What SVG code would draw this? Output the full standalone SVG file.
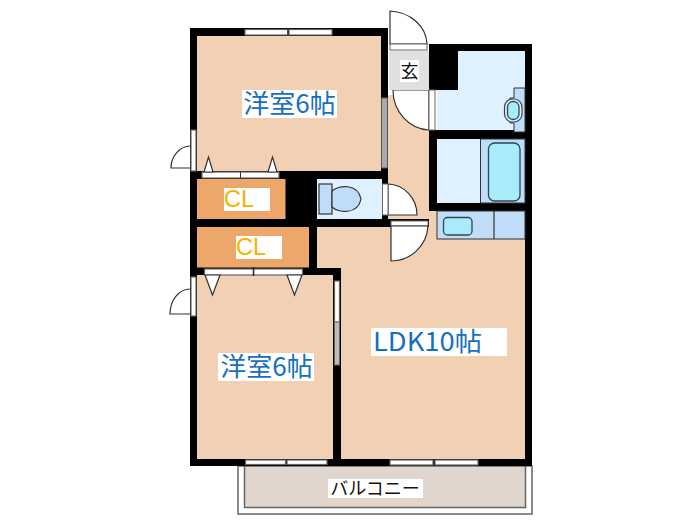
<svg xmlns="http://www.w3.org/2000/svg" width="700" height="525" viewBox="0 0 700 525">
<style>
.w{fill:#000}
.p{fill:#f2d0b4}
.o{fill:#eda76a}
.b{fill:#dff1ff}
.m{fill:#bfdcf8}
.c{fill:#a8ecfb;stroke:#33464f;stroke-width:1.3}
.l{fill:#fff}
.d{fill:#fff;stroke:#333;stroke-width:1.2}
.wn{fill:#fff;stroke:#666;stroke-width:1.2}
.t{font-family:"Noto Sans CJK JP","Noto Sans",sans-serif}
.bl{fill:#1570bd;font-size:26px}
.cl{fill:#f5b400;font-size:23.500px;font-family:"Liberation Sans",sans-serif}
</style>
<g id="balcony">
<rect x="238" y="466" width="294" height="48" fill="#fff" stroke="#666" stroke-width="1.5"/>
<rect x="244.500" y="466" width="281" height="41.500" fill="#e0d6cd" stroke="#666" stroke-width="1.5"/>
<rect x="328" y="479" width="95" height="19" class="l"/>
<text x="375" y="495" text-anchor="middle" class="t" font-size="18" fill="#111">バルコニー</text>
</g>
<g id="walls">
<rect x="190" y="28" width="198" height="151" class="w"/>
<rect x="190" y="171" width="127" height="104" class="w"/>
<rect x="190" y="171" width="7" height="295" class="w"/>
<rect x="190" y="459" width="342" height="7" class="w"/>
<rect x="333" y="268" width="8" height="198" class="w"/>
<rect x="300" y="268" width="41" height="7" class="w"/>
<rect x="429" y="44" width="103" height="7" class="w"/>
<rect x="525" y="44" width="7" height="422" class="w"/>
<rect x="429" y="44" width="29" height="46" class="w"/>
<rect x="429" y="130" width="103" height="9" class="w"/>
<rect x="429" y="130" width="8" height="95" class="w"/>
<rect x="429" y="203" width="103" height="8" class="w"/>
<rect x="310" y="171" width="78" height="8" class="w"/>
<rect x="310" y="219" width="127" height="8" class="w"/>
<rect x="382" y="28" width="6" height="110" class="w"/>
<rect x="382" y="165" width="6" height="19" class="w"/>
<rect x="382" y="214" width="6" height="12" class="w"/>
</g>
<g id="room-west-upper">
<rect x="197" y="36" width="184" height="135" class="p"/>
<rect x="245" y="29.500" width="43" height="5.500" class="wn"/>
<rect x="289" y="29.500" width="43" height="5.500" class="wn"/>
<line x1="288" y1="28" x2="288" y2="36" stroke="#333" stroke-width="1.500"/>
<rect x="191" y="130" width="5" height="41" class="wn"/>
<path d="M190 146A20 22 0 0 0 171 168H190" class="d"/>
<rect x="202" y="172" width="77" height="6" class="wn"/>
<line x1="240.500" y1="172" x2="240.500" y2="178" stroke="#333"/>
<path d="M204 172L208.500 157L213 172ZM268 172L272.500 157L277 172Z" class="d"/>
<rect x="381.500" y="98" width="6" height="70" fill="#aaa" stroke="#555"/>
<rect x="242" y="90" width="95" height="28" class="l"/>
<text x="289.500" y="113" text-anchor="middle" class="t bl">洋室6帖</text>
</g>
<g id="closet-upper">
<rect x="197" y="179" width="88.500" height="40" class="o"/>
<rect x="224" y="188" width="46" height="23" class="l"/>
<text x="224" y="207" class="cl">CL</text>
</g>
<g id="closet-lower">
<rect x="197" y="227" width="112" height="40.500" class="o"/>
<rect x="236" y="236" width="46" height="23" class="l"/>
<text x="236" y="255" class="cl">CL</text>
</g>
<g id="room-west-lower">
<rect x="197" y="275" width="136" height="184" class="p"/>
<rect x="204.500" y="269" width="98" height="6" class="wn"/>
<line x1="253.500" y1="267" x2="253.500" y2="276" stroke="#222" stroke-width="1.500"/>
<path d="M205 275H220L212.500 295ZM287 275H302L294.500 295Z" class="d"/>
<rect x="191" y="277" width="5" height="39" class="wn"/>
<path d="M190 289A20 25 0 0 0 170 314H190" class="d"/>
<rect x="334.500" y="281" width="5" height="41" class="wn"/>
<rect x="334.500" y="322" width="5" height="43" fill="#bbb" stroke="#666"/>
<rect x="218" y="353" width="96" height="28" class="l"/>
<text x="266.500" y="376" text-anchor="middle" class="t bl">洋室6帖</text>
<rect x="245.500" y="460" width="40" height="4.500" class="wn"/>
<rect x="287" y="460" width="40" height="4.500" class="wn"/>
</g>
<g id="ldk">
<path d="M317 227H429V211H437V239H525V459H341V268H317Z" class="p"/>
<rect x="391" y="221" width="37" height="5" class="l" stroke="#666"/>
<path d="M391 226H428A37 37 0 0 1 391 261Z" class="d"/>
<rect x="371" y="328" width="136" height="28" class="l"/>
<text x="373" y="351" class="t bl" textLength="109" lengthAdjust="spacingAndGlyphs">LDK10帖</text>
<rect x="390" y="460" width="43" height="5" class="wn"/>
<rect x="435" y="460" width="43" height="5" class="wn"/>
<line x1="434" y1="459" x2="434" y2="466" stroke="#333" stroke-width="1.500"/>
</g>
<g id="hall">
<rect x="388" y="95" width="41" height="124" class="p"/>
<path d="M393 90H429V130A38 40 0 0 1 393 90Z" fill="#fff" stroke="#333" stroke-width="1.200"/>
<rect x="429" y="90" width="6" height="40" class="l" stroke="#666"/>
</g>
<g id="entry">
<rect x="389" y="51" width="40" height="39" fill="#e0e0e0"/>
<rect x="400" y="60" width="19" height="22" class="l"/>
<text x="409.500" y="78" text-anchor="middle" class="t" font-size="18" fill="#111">玄</text>
<path d="M390 11A39 34 0 0 1 427 44H390Z" class="d"/>
<rect x="390" y="44" width="37" height="6" class="l" stroke="#666"/>
</g>
<g id="toilet">
<rect x="317" y="179" width="65" height="40" class="b"/>
<rect x="319" y="184" width="13" height="30" class="m" stroke="#333" stroke-width="1.200"/>
<path d="M332 191C338 185 358 183 361 199C358 215 338 213 332 207Z" class="m" stroke="#333" stroke-width="1.200"/>
<path d="M388 184A30 31 0 0 1 417 215H388Z" class="d"/>
<rect x="382.500" y="184" width="5.500" height="31" class="l" stroke="#666"/>
</g>
<g id="wash">
<path d="M458 51H525V130H437V90H458Z" class="b"/>
<path d="M514 88H525V132H514V123H510V98H514Z" class="m" stroke="#333" stroke-width="1"/>
<rect x="504.500" y="99" width="17.500" height="23" rx="8" fill="#dff1ff" stroke="#33464f" stroke-width="1.200"/>
<rect x="507.500" y="101.500" width="11.500" height="18" rx="5.500" class="c"/>
</g>
<g id="bath">
<rect x="437" y="139" width="88" height="64" class="b"/>
<rect x="480.500" y="139" width="44.500" height="64" class="m" stroke="#333" stroke-width="1"/>
<rect x="488.500" y="143" width="31.500" height="58" rx="6" class="c"/>
</g>
<g id="kitchen">
<rect x="437" y="211" width="88" height="28" class="m" stroke="#333" stroke-width="1"/>
<line x1="494" y1="211" x2="494" y2="239" stroke="#333" stroke-width="1.200"/>
<rect x="443.500" y="217.500" width="28.500" height="17.500" rx="4" class="c"/>
</g>
<g id="connectors"></g>
</svg>
